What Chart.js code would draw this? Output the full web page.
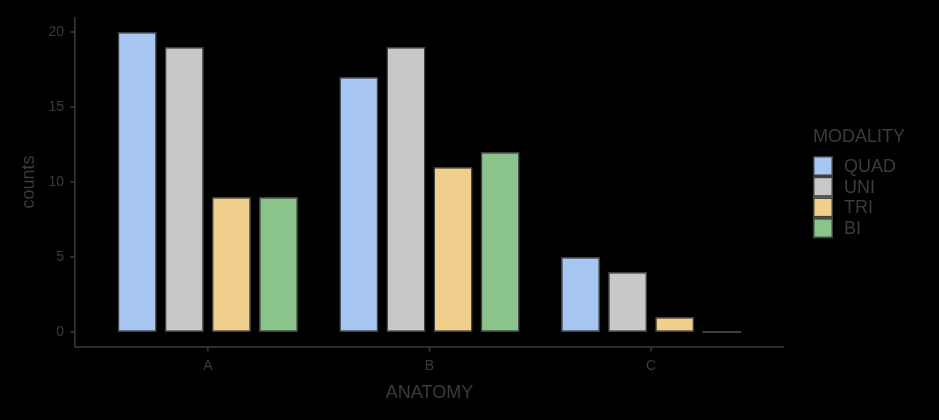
<!DOCTYPE html>
<html>
<head>
<meta charset="utf-8">
<script src="https://cdn.jsdelivr.net/npm/chart.js@4"></script>
<style>
  html, body { margin: 0; padding: 0; background: #000; }
  #wrap { width: 939px; height: 420px; }
</style>
</head>
<body>
<div id="wrap"><canvas id="chart" width="939" height="420"></canvas></div>
<script>
// data
const anatomy = ["A", "B", "C"];
const quad = [20, 17, 5];
const uni = [19, 19, 4];
const tri = [9, 11, 1];
const bi = [9, 12, 0];
const yTicks = [0, 5, 10, 15, 20];

const textColor = "#3b3b3b";
const lineColor = "#3b3b3b";
const barBorder = "#404040";

function series(label, data, color) {
    return {
        label: label,
        data: data,
        backgroundColor: color,
        borderColor: barBorder,
        borderWidth: 1.5,
        borderSkipped: false,
        minBarLength: 2,
        categoryPercentage: 0.85,
        barPercentage: 0.83
    };
}

// ggplot-style axes: lines extend 0.6 of a category past the outer bars
const axisLines = {
    id: "axisLines",
    afterDraw(chart) {
        const { ctx, chartArea: ca, scales: { x, y } } = chart;
        const w = (ca.right - ca.left) / anatomy.length;
        const x0 = ca.left - 0.1 * w;
        const x1 = ca.right + 0.1 * w;
        ctx.save();
        ctx.strokeStyle = lineColor;
        ctx.lineWidth = 1.5;
        ctx.beginPath();
        ctx.moveTo(x0, ca.top);
        ctx.lineTo(x0, ca.bottom);
        ctx.lineTo(x1, ca.bottom);
        yTicks.forEach(v => {
            const py = y.getPixelForValue(v);
            ctx.moveTo(x0 - 4.5, py);
            ctx.lineTo(x0, py);
        });
        anatomy.forEach((c, i) => {
            const px = x.getPixelForValue(i);
            ctx.moveTo(px, ca.bottom);
            ctx.lineTo(px, ca.bottom + 4.5);
        });
        ctx.stroke();
        ctx.restore();
    }
};

// legend on the right, keys stacked like ggplot
const sideLegend = {
    id: "sideLegend",
    afterDraw(chart) {
        const ctx = chart.ctx;
        const left = 813;
        let top = 156;
        const box = 20;
        ctx.save();
        ctx.fillStyle = textColor;
        ctx.font = "18px 'Liberation Sans', Arial, sans-serif";
        ctx.textBaseline = "middle";
        ctx.textAlign = "left";
        ctx.fillText("MODALITY", left, 137);
        chart.data.datasets.forEach(ds => {
            ctx.fillStyle = ds.backgroundColor;
            ctx.fillRect(left, top, box, box);
            ctx.strokeStyle = barBorder;
            ctx.lineWidth = 1.5;
            ctx.strokeRect(left + 0.75, top + 0.75, box - 1.5, box - 1.5);
            ctx.fillStyle = textColor;
            ctx.fillText(ds.label, left + 31, top + box / 2 + 1);
            top += 20.7;
        });
        ctx.restore();
    }
};

new Chart(document.getElementById("chart"), {
    type: "bar",
    data: {
        labels: anatomy,
        datasets: [
            series("QUAD", quad, "#a7c6f1"),
            series("UNI", uni, "#c8c8c8"),
            series("TRI", tri, "#f0ce8c"),
            series("BI", bi, "#8bc48b")
        ]
    },
    options: {
        responsive: false,
        animation: false,
        layout: { padding: { top: 17, right: 177, left: 0, bottom: 0 } },
        scales: {
            x: {
                offset: true,
                grid: { display: false, drawTicks: true, tickLength: 9 },
                border: { display: false },
                ticks: {
                    color: textColor,
                    font: { family: "'Liberation Sans', Arial, sans-serif", size: 14 },
                    padding: 2
                },
                title: {
                    display: true,
                    text: "ANATOMY",
                    color: textColor,
                    font: { family: "'Liberation Sans', Arial, sans-serif", size: 18 },
                    padding: { top: 0, bottom: 16 }
                },
                afterFit(scale) { scale.height = 73; }
            },
            y: {
                min: -1,
                max: 21,
                grid: { display: false, drawTicks: true, tickLength: 31 },
                border: { display: false },
                ticks: {
                    color: textColor,
                    font: { family: "'Liberation Sans', Arial, sans-serif", size: 14 },
                    padding: 2
                },
                afterBuildTicks(scale) {
                    scale.ticks = yTicks.map(v => ({ value: v }));
                },
                title: {
                    display: true,
                    text: "counts",
                    color: textColor,
                    font: { family: "'Liberation Sans', Arial, sans-serif", size: 18 },
                    padding: { top: 18, bottom: 0 }
                },
                afterFit(scale) { scale.width = 97; }
            }
        },
        plugins: {
            legend: { display: false },
            tooltip: { enabled: false }
        }
    },
    plugins: [axisLines, sideLegend]
});
</script>
</body>
</html>
